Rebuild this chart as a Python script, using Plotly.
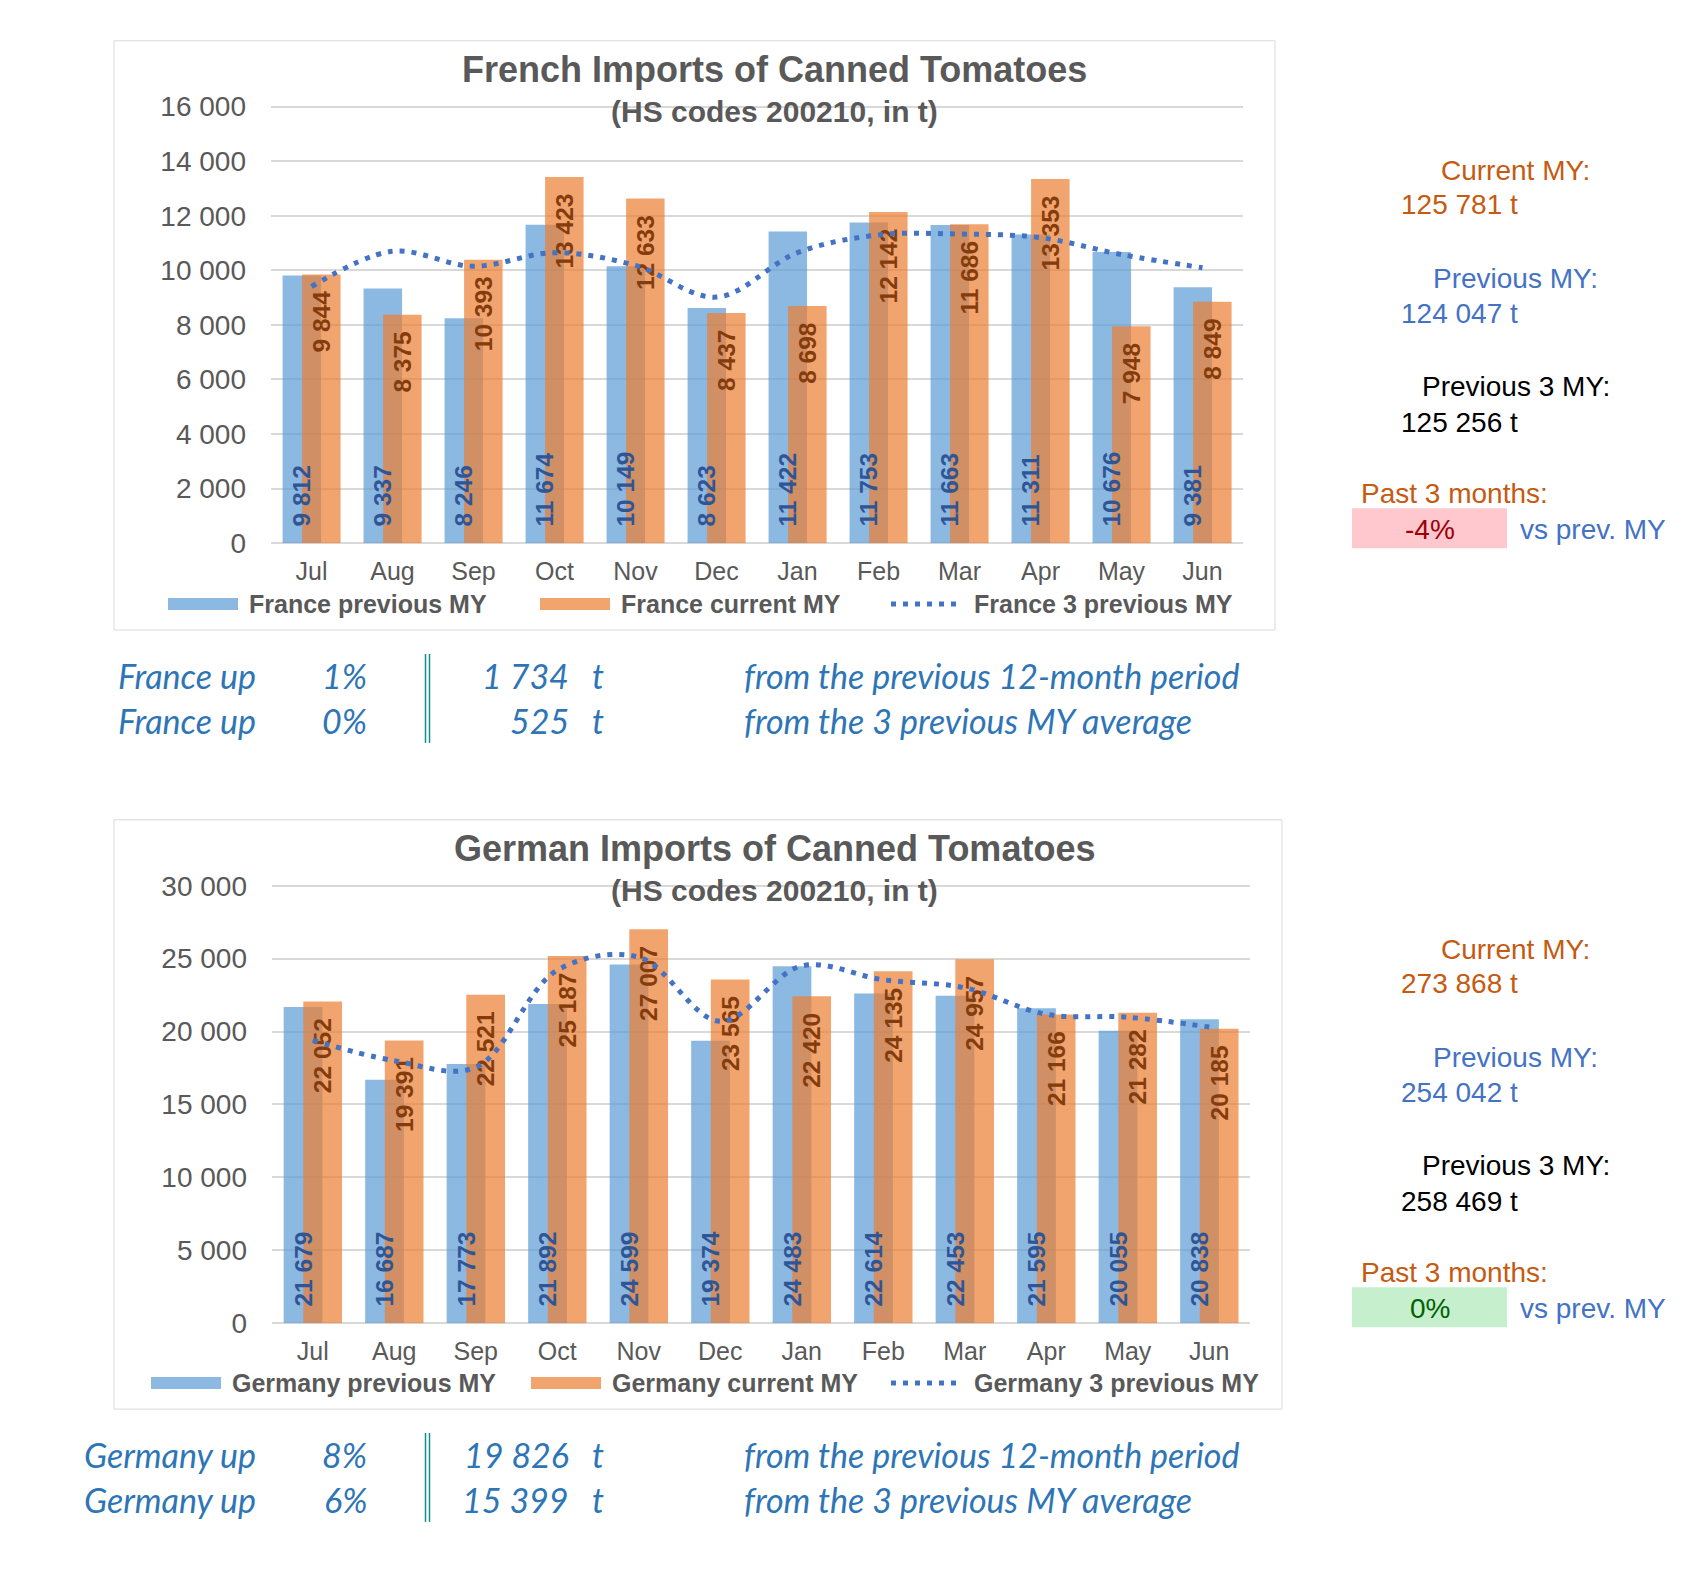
import plotly.graph_objects as go

# month order of the marketing year
months = ["Jul", "Aug", "Sep", "Oct", "Nov", "Dec", "Jan", "Feb", "Mar", "Apr", "May", "Jun"]

# France, t
fr_prev = [9812, 9337, 8246, 11674, 10149, 8623, 11422, 11753, 11663, 11311, 10676, 9381]
fr_curr = [9844, 8375, 10393, 13423, 12633, 8437, 8698, 12142, 11686, 13353, 7948, 8849]
fr_3prev = [9400, 10700, 10150, 10650, 10180, 9020, 10650, 11300, 11330, 11200, 10580, 10096]

# Germany, t
de_prev = [21679, 16687, 17773, 21892, 24599, 19374, 24483, 22614, 22453, 21595, 20055, 20838]
de_curr = [22052, 19391, 22521, 25187, 27007, 23565, 22420, 24135, 24957, 21166, 21282, 20185]
de_3prev = [19400, 18000, 17550, 24200, 25100, 20700, 24500, 23550, 23000, 21180, 20980, 20309]

# figure size (page minus body margins) and where the figure sits in the page
W, H = 1674, 1546
OX, OY = 8, 21
ARIAL = "Liberation Sans, Arial, sans-serif"
CALIBRI = "Lato, Carlito, Calibri, sans-serif"
GREY = "#595959"
BLUE = "rgba(91,155,213,0.7)"
ORANGE = "rgba(237,125,49,0.7)"
LINE = "#4472C4"


def px(x):
    return (x - OX) / W


def py(y):
    yy = 1.0165 * y + 2.5
    return 1 - (yy - OY) / H


def fmt(v):
    return f"{v:,}".replace(",", " ")


fig = go.Figure()
annotations = []
shapes = []


def note(x, y, text, size, color, xanchor="center", family=ARIAL):
    annotations.append(dict(
        x=px(x), y=py(y), xref="paper", yref="paper", text=text, showarrow=False,
        xanchor=xanchor, yanchor="middle", font=dict(family=family, size=size, color=color)))


def add_chart(n, country, title, prev, curr, avg, plot, ymax, dtick, dy):
    xa = "x" if n == 1 else f"x{n}"
    ya = "y" if n == 1 else f"y{n}"
    # chart frame
    shapes.append(dict(type="rect", xref="paper", yref="paper", layer="below",
                       x0=px(114), x1=px(plot[4]), y0=py(40 + dy), y1=py(630 + dy),
                       line=dict(color="#D9D9D9", width=1), fillcolor="white"))

    fig.add_trace(go.Bar(
        x=months, y=prev, xaxis=xa, yaxis=ya, name=f"{country} previous MY",
        marker=dict(color=BLUE, line=dict(width=0)), offset=-0.357, width=0.475,
        hoverinfo="skip", showlegend=False))
    fig.add_trace(go.Bar(
        x=months, y=curr, xaxis=xa, yaxis=ya, name=f"{country} current MY",
        marker=dict(color=ORANGE, line=dict(width=0)), offset=-0.116, width=0.475,
        texttemplate="%{y:,}\u00a0\u00a0", textposition="inside", insidetextanchor="end",
        textangle=-90, constraintext="none",
        insidetextfont=dict(family=ARIAL, size=24.5, color="#843C0C", weight="bold"),
        hoverinfo="skip", showlegend=False))
    # labels of the previous-MY bars sit on top of everything
    fig.add_trace(go.Bar(
        x=months, y=prev, xaxis=xa, yaxis=ya, name=f"{country} previous MY labels",
        marker=dict(color="rgba(0,0,0,0)", line=dict(width=0)), offset=-0.357, width=0.475,
        texttemplate="\u00a0\u00a0%{y:,}", textposition="inside", insidetextanchor="start",
        textangle=-90, constraintext="none",
        insidetextfont=dict(family=ARIAL, size=24.5, color="#2F5597", weight="bold"),
        hoverinfo="skip", showlegend=False))
    fig.add_trace(go.Scatter(
        x=months, y=avg, xaxis=xa, yaxis=ya, mode="lines", name=f"{country} 3 previous MY",
        line=dict(color=LINE, width=5, dash="5px,7px", shape="spline", smoothing=1),
        hoverinfo="skip", showlegend=False))

    x0, x1, y0, y1 = plot[:4]
    pad = 0.01 * (y1 - y0)
    fig.update_layout(**{
        ("xaxis" if n == 1 else f"xaxis{n}"): dict(
            domain=[px(x0), px(x1)], anchor=ya, type="category", range=[-0.5, 11.5],
            showgrid=False, showline=False, ticks="", ticklabelstandoff=11,
            tickfont=dict(family=ARIAL, size=25, color=GREY), fixedrange=True),
        ("yaxis" if n == 1 else f"yaxis{n}"): dict(
            domain=[py(y1), py(y0 - pad)], anchor=xa, range=[0, ymax * 1.01], dtick=dtick,
            tickformat=",d", showgrid=True, gridcolor="#D9D9D9", gridwidth=1.5,
            zeroline=True, zerolinecolor="#D9D9D9", zerolinewidth=1.5,
            showline=False, ticks="", ticklabelstandoff=24,
            tickfont=dict(family=ARIAL, size=28, color=GREY), fixedrange=True),
    })

    # titles
    note(774, 69 + dy, f"<b>{title}</b>", 36, GREY)
    note(774, 111 + dy, "<b>(HS codes 200210, in t)</b>", 30, GREY)

    # legend
    ly = 604 + dy
    shapes.append(dict(type="rect", xref="paper", yref="paper", x0=px(plot[5]), x1=px(plot[5] + 70),
                       y0=py(ly + 6), y1=py(ly - 6), line=dict(width=0), fillcolor=BLUE))
    shapes.append(dict(type="rect", xref="paper", yref="paper", x0=px(plot[6]), x1=px(plot[6] + 70),
                       y0=py(ly + 6), y1=py(ly - 6), line=dict(width=0), fillcolor=ORANGE))
    shapes.append(dict(type="line", xref="paper", yref="paper", x0=px(891), x1=px(961),
                       y0=py(ly), y1=py(ly), line=dict(color=LINE, width=5, dash="5px,7px")))
    note(plot[5] + 79, ly, f"<b>{country} previous MY</b>", 25, GREY, "left")
    note(plot[6] + 79, ly, f"<b>{country} current MY</b>", 25, GREY, "left")
    note(972, ly, f"<b>{country} 3 previous MY</b>", 25, GREY, "left")

    # side summary
    tot_curr, tot_prev, tot_3 = sum(curr), sum(prev), sum(avg)
    note(1515, 170 + dy, "Current MY:", 28, "#C55A11")
    note(1399, 204 + dy, f"{fmt(tot_curr)} t", 28, "#C55A11", "left")
    note(1515, 278 + dy, "Previous MY:", 28, LINE)
    note(1399, 313 + dy, f"{fmt(tot_prev)} t", 28, LINE, "left")
    note(1516, 386 + dy, "Previous 3 MY:", 28, "black")
    note(1399, 422 + dy, f"{fmt(tot_3)} t", 28, "black", "left")
    note(1359, 493 + dy, "Past 3 months:", 28, "#C55A11", "left")
    p3 = round((sum(curr[-3:]) / sum(prev[-3:]) - 1) * 100)
    bg, fg = ("#FFC7CE", "#9C0006") if p3 < 0 else ("#C6EFCE", "#006100")
    shapes.append(dict(type="rect", xref="paper", yref="paper", x0=px(1352), x1=px(1507),
                       y0=py(548 + dy), y1=py(508 + dy), line=dict(width=0), fillcolor=bg))
    note(1430, 529 + dy, f"{p3}%", 28, fg)
    note(1518, 529 + dy, "vs prev. MY", 28, LINE, "left")

    # bottom comparison rows
    for row, (ref, label) in enumerate([(tot_prev, "from the previous 12-month period"),
                                        (tot_3, "from the 3 previous MY average")]):
        yy = 676 + dy + row * 45
        diff = tot_curr - ref
        word = "up" if diff >= 0 else "down"
        pct = round(abs(diff) / ref * 100)
        c = "#2E75B6"
        note(258, yy, f"<i>{country} {word}</i>", 34, c, "right", CALIBRI)
        note(369, yy, f"<i>{pct}%</i>", 34, c, "right", CALIBRI)
        note(571, yy, f"<i>{fmt(abs(diff))}</i>", 34, c, "right", CALIBRI)
        note(590, yy, "<i>t</i>", 34, c, "left", CALIBRI)
        note(742, yy, f"<i>{label}</i>", 34, c, "left", CALIBRI)
    for lx in (425.5, 429.5):
        shapes.append(dict(type="line", xref="paper", yref="paper", x0=px(lx), x1=px(lx),
                           y0=py(654 + dy), y1=py(743 + dy), line=dict(color="#10908C", width=1.5)))


add_chart(1, "France", "French Imports of Canned Tomatoes", fr_prev, fr_curr, fr_3prev,
          (271, 1243, 106, 543, 1275, 168, 540), 16000, 2000, 0)
add_chart(2, "Germany", "German Imports of Canned Tomatoes", de_prev, de_curr, de_3prev,
          (272, 1250, 886, 1324, 1282, 151, 531), 30000, 5000, 780)

fig.update_layout(
    width=W, height=H, margin=dict(l=0, r=0, t=0, b=0),
    paper_bgcolor="white", plot_bgcolor="rgba(0,0,0,0)",
    barmode="overlay", separators=". ", showlegend=False,
    font=dict(family=ARIAL, color=GREY),
    annotations=annotations, shapes=shapes,
)

fig.write_html("out.html")
